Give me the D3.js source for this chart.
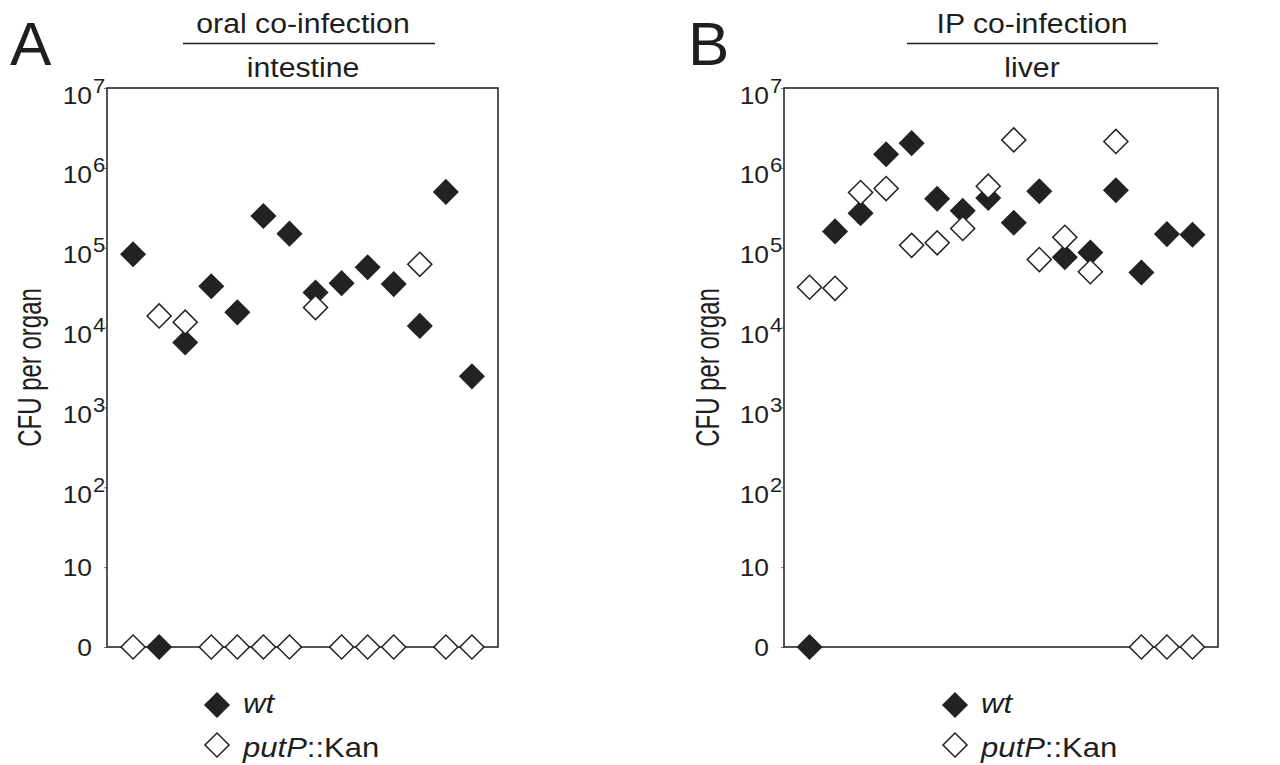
<!DOCTYPE html>
<html>
<head>
<meta charset="utf-8">
<script src="https://cdn.jsdelivr.net/npm/d3@7"></script>
<style>
  body { margin: 0; background: #fff; }
  svg { display: block; font-family: 'Liberation Sans', Arial, sans-serif; }
</style>
</head>
<body>
<script>
// ==================== Data ============================
// CFU per organ for each mouse (0 = nothing recovered, drawn on the "0" line)
const tickValues = [1, 10, 1e2, 1e3, 1e4, 1e5, 1e6, 1e7];
const tickLabels = ['0', '10', '10^2', '10^3', '10^4', '10^5', '10^6', '10^7'];

const oralWt   = [83000, 0, 6500, 33000, 15500, 250000, 150000, 27500, 36000, 57000, 35000, 10500, 500000, 2450];
const oralPutP = [0, 14000, 11700, 0, 0, 0, 0, 17800, 0, 0, 0, 62000, 0, 0];

const ipWt   = [0, 160000, 270000, 1480000, 2040000, 410000, 290000, 420000, 205000, 510000, 76000, 87000, 525000, 49000, 148000, 145000];
const ipPutP = [32000, 31000, 490000, 550000, 107000, 115000, 174000, 590000, 2240000, 71000, 135000, 50000, 2140000, 0, 0, 0];

const panelLetters = ['A', 'B'];
const panelTitles  = ['oral co-infection', 'IP co-infection'];
const panelOrgans  = ['intestine', 'liver'];
const yLabel = 'CFU per organ';

// ==================== Layout ============================
const W = 1280, H = 765;
const plotTop = 88, plotBottom = 647;
const ink = '#1e1e1e';

const panels = [
  { letter: panelLetters[0], title: panelTitles[0], organ: panelOrgans[0], wt: oralWt, put: oralPutP,
    left: 107, right: 498, letterX: 10, titleX: 303, line: [183, 435], yLabX: 41, legX: 217 },
  { letter: panelLetters[1], title: panelTitles[1], organ: panelOrgans[1], wt: ipWt, put: ipPutP,
    left: 784, right: 1218, letterX: 688, titleX: 1032, line: [907, 1158], yLabX: 719, legX: 955 }
];

const svg = d3.select('body').append('svg')
    .attr('width', W)
    .attr('height', H);

const y = d3.scaleLog().domain([1, 1e7]).range([plotBottom, plotTop]);
const yOf = (v) => y(Math.max(v, 1));

const filledDiamond = d3.symbol(d3.symbolSquare, 340);
const openDiamond   = d3.symbol(d3.symbolSquare, 290);

// text helper, with a slight horizontal stretch like the original figure
const addText = (g, x, yy, str, size, anchor, sx) =>
  g.append('text')
    .attr('transform', `translate(${x},${yy}) scale(${sx},1)`)
    .attr('text-anchor', anchor)
    .style('font-size', size + 'px')
    .style('fill', ink)
    .text(str);

panels.forEach((p) => {
  const g = svg.append('g');
  const n = p.wt.length;
  const x = d3.scaleLinear().domain([0, n + 1]).range([p.left, p.right]);

  // panel letter
  g.append('text')
      .attr('x', p.letterX)
      .attr('y', 65)
      .style('font-size', '62px')
      .style('fill', ink)
      .text(p.letter);

  // title over organ
  addText(g, p.titleX, 33, p.title, 27, 'middle', 1.12);
  g.append('line')
      .attr('x1', p.line[0]).attr('x2', p.line[1])
      .attr('y1', 43.5).attr('y2', 43.5)
      .style('stroke', ink)
      .style('stroke-width', 1.5);
  addText(g, p.titleX, 77, p.organ, 27, 'middle', 1.12);

  // y axis
  const axis = g.append('g')
      .attr('transform', `translate(${p.left},0)`)
      .call(d3.axisLeft(y).tickValues(tickValues).tickSize(3).tickSizeOuter(0).tickFormat((d, i) => tickLabels[i]));
  axis.select('.domain').remove();
  axis.selectAll('.tick line').style('stroke', '#777');
  axis.selectAll('.tick').each(function (d, i) {
    const t = d3.select(this);
    const parts = tickLabels[i].split('^');
    t.select('text').remove();
    if (parts.length === 1) {
      addText(t, -15, 0, parts[0], 24, 'end', 1.1).attr('dy', '0.35em');
    } else {
      addText(t, -15, 15, parts[0], 24, 'end', 1.1);
      addText(t, -14, 4, parts[1], 20, 'start', 1.1);
    }
  });

  // y label
  g.append('text')
      .attr('transform', `translate(${p.yLabX},${(plotTop + plotBottom) / 2}) scale(1.4,1) rotate(-90)`)
      .attr('text-anchor', 'middle')
      .style('font-size', '24px')
      .style('fill', ink)
      .text(yLabel);

  // frame
  g.append('rect')
      .attr('x', p.left).attr('y', plotTop)
      .attr('width', p.right - p.left).attr('height', plotBottom - plotTop)
      .style('fill', 'none')
      .style('stroke', '#2a2a2a')
      .style('stroke-width', 1.6);

  // wt (filled)
  g.selectAll('.wt')
      .data(p.wt)
      .enter()
    .append('path')
      .attr('class', 'wt')
      .attr('d', filledDiamond)
      .attr('transform', (d, i) => `translate(${x(i + 1)},${yOf(d)}) rotate(45)`)
      .style('fill', '#222');

  // putP::Kan (open)
  g.selectAll('.put')
      .data(p.put)
      .enter()
    .append('path')
      .attr('class', 'put')
      .attr('d', openDiamond)
      .attr('transform', (d, i) => `translate(${x(i + 1)},${yOf(d)}) rotate(45)`)
      .style('fill', '#fff')
      .style('stroke', '#222')
      .style('stroke-width', 1.5);

  // legend
  g.append('path')
      .attr('d', filledDiamond)
      .attr('transform', `translate(${p.legX},705) rotate(45)`)
      .style('fill', '#222');
  g.append('path')
      .attr('d', openDiamond)
      .attr('transform', `translate(${p.legX},745) rotate(45)`)
      .style('fill', '#fff')
      .style('stroke', '#222')
      .style('stroke-width', 1.5);

  addText(g, p.legX + 26, 713, 'wt', 27, 'start', 1.15).style('font-style', 'italic');
  const t2 = addText(g, p.legX + 26, 757, '', 27, 'start', 1.15);
  t2.append('tspan').style('font-style', 'italic').text('putP');
  t2.append('tspan').text('::Kan');
});
</script>
</body>
</html>
